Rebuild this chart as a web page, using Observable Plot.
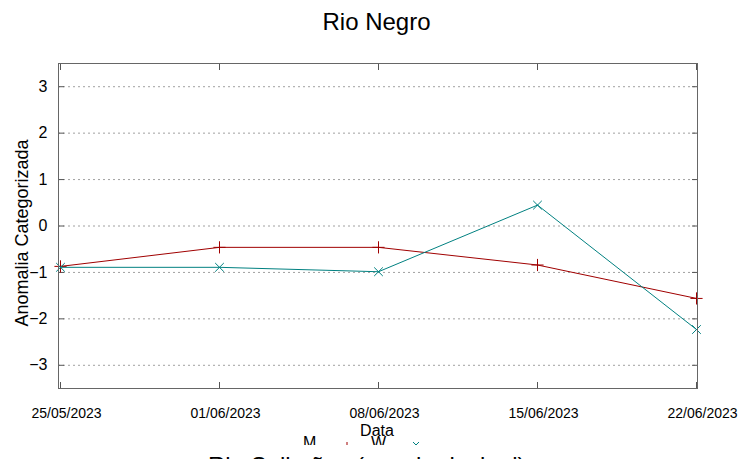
<!DOCTYPE html>
<html><head><meta charset="utf-8">
<script src="https://cdn.jsdelivr.net/npm/d3@7"></script>
<script src="https://cdn.jsdelivr.net/npm/@observablehq/plot@0.6"></script>
<style>
html,body{margin:0;padding:0;background:#fff;}
#wrap{position:relative;width:753px;height:459px;overflow:hidden;font-family:"Liberation Sans",Arial,sans-serif;color:#000;}
.abs{position:absolute;line-height:1;white-space:nowrap;}
</style></head><body>
<div id="wrap">
  <div class="abs" id="title" style="left:0;width:753px;top:10px;text-align:center;font-size:24px;"></div>
  <div id="chart" style="position:absolute;left:0;top:50px;"></div>
  <div class="abs" id="ylabel" style="left:21.6px;top:233px;font-size:18px;transform:translate(-50%,-50%) rotate(-90deg);"></div>
  <div class="abs" id="xlabel" style="left:377px;top:423px;font-size:16px;transform:translateX(-50%);"></div>
  <div id="legend" style="position:absolute;left:0;top:0;width:753px;height:444.5px;overflow:hidden;pointer-events:none;"></div>
  <div class="abs" id="next" style="left:208px;top:453.5px;font-size:24px;"></div>
</div>
<script>
const dates = ["25/05/2023","01/06/2023","08/06/2023","15/06/2023","22/06/2023"];
const mediaValues = [-0.87, -0.46, -0.46, -0.84, -1.56];
const wrfValues = [-0.89, -0.89, -0.985, 0.45, -2.23];
const yTicks = [-3, -2, -1, 0, 1, 2, 3];
const seriesNames = ["M", "W"];
const seriesColors = ["#a00000", "#008080"];
const titleText = "Rio Negro";
const yLabel = "Anomalia Categorizada";
const xLabel = "Data";
const nextTitle = "Rio Solimões (canal principal)";

const media = dates.map((d, i) => ({date: d, value: mediaValues[i]}));
const wrf = dates.map((d, i) => ({date: d, value: wrfValues[i]}));

const chart = Plot.plot({
  width: 753, height: 390,
  marginTop: 13, marginBottom: 52, marginLeft: 58, marginRight: 56,
  style: {fontFamily: "Liberation Sans, Arial, sans-serif", fontSize: "14px", background: "white", color: "black"},
  x: {type: "point", domain: dates, padding: 0},
  y: {domain: [-3.5, 3.5]},
  marks: [
    Plot.gridY(yTicks, {stroke: "#a0a0a0", strokeOpacity: 1, strokeDasharray: "2,3"}),
    Plot.axisY(yTicks, {anchor: "left", tickSize: 0, tickPadding: 11, fontSize: 16, label: null}),
    Plot.axisY(yTicks, {anchor: "left", tickSize: -6, tickFormat: () => "", label: null, stroke: "#555"}),
    Plot.axisY(yTicks, {anchor: "right", tickSize: -6, tickFormat: () => "", label: null, stroke: "#555"}),
    Plot.axisX(dates, {anchor: "bottom", tickSize: 0, tickPadding: 20, fontSize: 14, dx: 6, label: null}),
    Plot.axisX(dates, {anchor: "bottom", tickSize: -6, tickFormat: () => "", label: null, stroke: "#555"}),
    Plot.axisX(dates, {anchor: "top", tickSize: -6, tickFormat: () => "", label: null, stroke: "#555"}),
    Plot.line(media, {x: "date", y: "value", stroke: seriesColors[0], strokeWidth: 1}),
    Plot.dot(media, {x: "date", y: "value", symbol: "plus", r: 4, stroke: seriesColors[0], strokeWidth: 1}),
    Plot.line(wrf, {x: "date", y: "value", stroke: seriesColors[1], strokeWidth: 1}),
    Plot.dot(wrf, {x: "date", y: "value", symbol: "times", r: 4, stroke: seriesColors[1], strokeWidth: 1}),
    Plot.frame({stroke: "#666"})
  ]
});
document.getElementById("chart").appendChild(chart);
document.getElementById("title").textContent = titleText;
document.getElementById("ylabel").textContent = yLabel;
document.getElementById("xlabel").textContent = xLabel;
document.getElementById("next").textContent = nextTitle;

const legend = document.getElementById("legend");
const legendText = [{left: 303, text: seriesNames[0]}, {left: 371, text: seriesNames[1]}];
legendText.forEach(it => {
  const s = document.createElement("span");
  s.className = "abs";
  s.style.left = it.left + "px";
  s.style.top = "435px";
  s.style.fontSize = "16px";
  s.textContent = it.text;
  legend.appendChild(s);
});
const NS = "http://www.w3.org/2000/svg";
const swatches = [{cx: 347, cy: 445.5, kind: "plus", color: seriesColors[0]}, {cx: 416, cy: 444.5, kind: "times", color: seriesColors[1]}];
swatches.forEach(sw => {
  const svg = document.createElementNS(NS, "svg");
  svg.setAttribute("width", 12); svg.setAttribute("height", 12);
  svg.style.position = "absolute";
  svg.style.left = (sw.cx - 6) + "px";
  svg.style.top = (sw.cy - 6) + "px";
  const p = document.createElementNS(NS, "path");
  p.setAttribute("d", sw.kind === "plus" ? "M6,2V10M2,6H10" : "M3,3L9,9M9,3L3,9");
  p.setAttribute("stroke", sw.color);
  p.setAttribute("fill", "none");
  svg.appendChild(p);
  legend.appendChild(svg);
});
</script>
</body></html>
